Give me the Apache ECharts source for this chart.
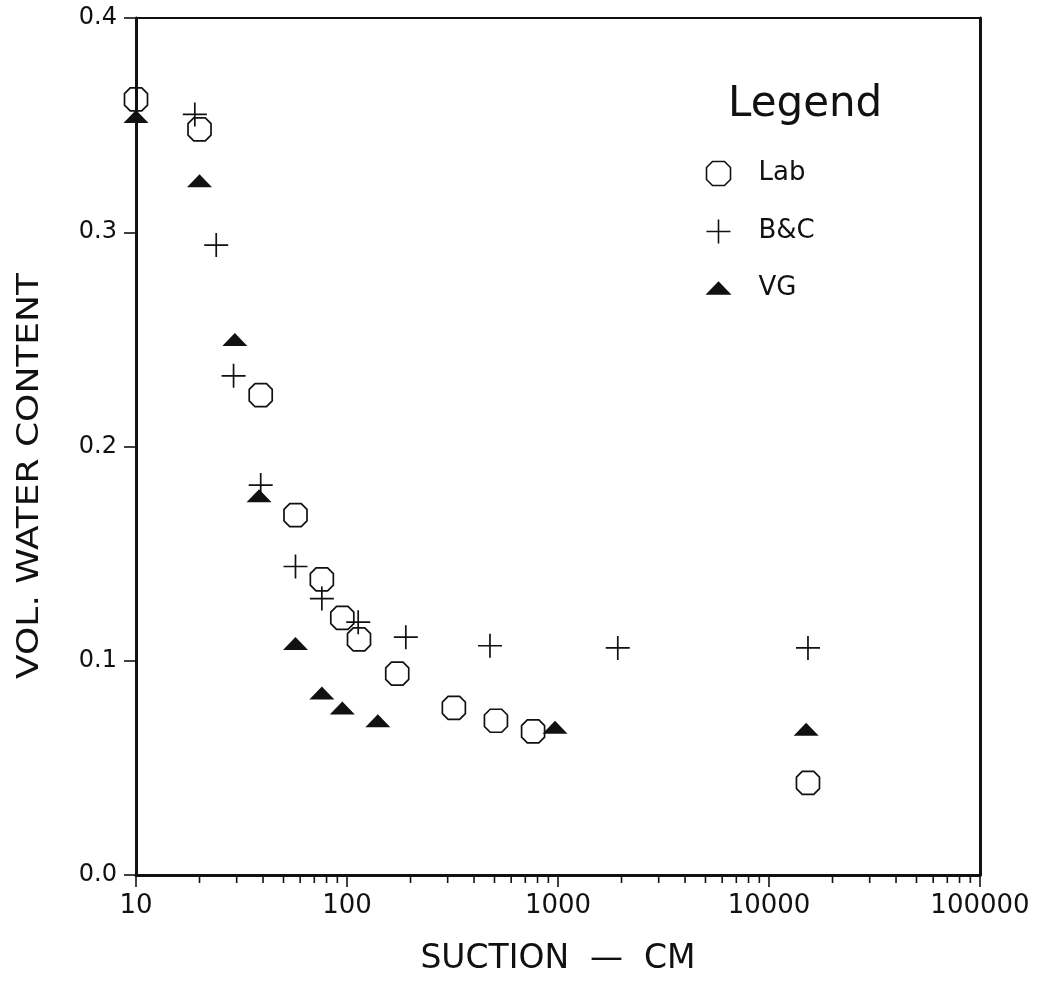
<!DOCTYPE html>
<html>
<head>
<meta charset="utf-8">
<script src="https://cdn.jsdelivr.net/npm/echarts@6/dist/echarts.min.js"></script>
<style>
  html, body { margin: 0; padding: 0; background: #fff; }
  #main { width: 1039px; height: 981px; }
</style>
</head>
<body>
<div id="main"></div>
<script>
// suction (cm) / volumetric water content
var labSuction = [10, 20, 39, 57, 76, 95, 114, 173, 321, 508, 762, 15300];
var labTheta   = [0.362, 0.348, 0.224, 0.168, 0.138, 0.120, 0.110, 0.094, 0.078, 0.072, 0.067, 0.043];

var bcSuction = [19, 24, 29, 39, 57, 76, 113, 190, 476, 1920, 15300];
var bcTheta   = [0.355, 0.294, 0.233, 0.182, 0.144, 0.129, 0.118, 0.111, 0.107, 0.106, 0.106];

var vgSuction = [10, 20, 29.4, 38.3, 57, 76, 95, 140, 968, 15000];
var vgTheta   = [0.354, 0.324, 0.250, 0.177, 0.108, 0.085, 0.078, 0.072, 0.069, 0.068];

var yTicks = [0, 0.1, 0.2, 0.3, 0.4];
var xDecades = [10, 100, 1000, 10000];
var minorSteps = [2, 3, 4, 5, 6, 7, 8, 9];

var INK = '#111';
var FONT = '"DejaVu Sans", sans-serif';

var octagon = 'path://M6,0 H18 L24,6 V18 L18,24 H6 L0,18 V6 Z';
var cross = 'path://M0,12 H24 M12,0 V24';
var flatTri = 'path://M0,13 L12.5,0 L25,13 Z';

function pairs(xs, ys) {
    var out = [];
    for (var i = 0; i < xs.length; i++) out.push([xs[i], ys[i]]);
    return out;
}

var minorTicks = [];
xDecades.forEach(function (d) {
    minorSteps.forEach(function (s) { minorTicks.push([d * s, 0]); });
});

var chart = echarts.init(document.getElementById('main'));

var option = {
    backgroundColor: '#fff',
    animation: false,
    grid: {
        left: 136, right: 59, top: 18, bottom: 106,
        show: true, borderColor: INK, borderWidth: 2
    },
    title: {
        text: 'Legend',
        left: 728, top: 84,
        padding: 0,
        textStyle: { fontFamily: FONT, fontSize: 42, fontWeight: 'normal', color: INK }
    },
    legend: {
        orient: 'vertical',
        left: 704, top: 159,
        padding: 0,
        itemWidth: 26, itemHeight: 24, itemGap: 29,
        selectedMode: false,
        textStyle: { fontFamily: FONT, fontSize: 26, color: INK, padding: [0, 0, 0, 22] },
        data: [
            { name: 'Lab', icon: octagon, itemStyle: { color: 'none', borderColor: INK, borderWidth: 1.6, opacity: 1 } },
            { name: 'B&C', icon: cross, itemStyle: { color: 'none', borderColor: INK, borderWidth: 1.6, opacity: 1 } },
            { name: 'VG', icon: flatTri, itemStyle: { color: INK, borderWidth: 0, opacity: 1 } }
        ]
    },
    xAxis: {
        type: 'log',
        logBase: 10,
        min: 10, max: 100000,
        name: 'SUCTION  —  CM',
        nameLocation: 'middle',
        nameGap: 68,
        nameTextStyle: { fontFamily: FONT, fontSize: 33, color: INK },
        axisLine: { lineStyle: { color: INK, width: 3 } },
        axisTick: { inside: false, length: 12, lineStyle: { color: INK, width: 1.6 } },
        axisLabel: {
            fontFamily: FONT, fontSize: 26, color: INK, margin: 18,
            formatter: function (v) { return String(Math.round(v)); }
        },
        splitLine: { show: false },
        minorTick: { show: false }
    },
    yAxis: [{
        type: 'value',
        min: yTicks[0], max: yTicks[yTicks.length - 1], interval: 0.1,
        axisLine: { show: true, lineStyle: { color: INK, width: 3 } },
        axisTick: { show: true, inside: false, length: 12, lineStyle: { color: INK, width: 1.6 } },
        axisLabel: {
            fontFamily: FONT, fontSize: 24, color: INK, margin: 19,
            formatter: function (v) { return v.toFixed(1); }
        },
        splitLine: { show: false }
    }, {
        type: 'value',
        position: 'right',
        min: 0, max: 0.4, interval: 0.1,
        axisLine: { show: true, lineStyle: { color: INK, width: 3 } },
        axisTick: { show: false },
        axisLabel: { show: false },
        splitLine: { show: false }
    }],
    graphic: [{
        type: 'text',
        x: 30, y: 476,
        rotation: Math.PI / 2,
        scaleX: 1.2,
        style: {
            text: 'VOL. WATER CONTENT',
            font: '30px ' + FONT,
            fill: INK,
            align: 'center',
            verticalAlign: 'middle'
        }
    }],
    series: [{
        name: 'minor ticks',
        type: 'custom',
        silent: true,
        data: minorTicks,
        renderItem: function (params, api) {
            var p = api.coord([api.value(0), 0]);
            return {
                type: 'line',
                shape: { x1: p[0], y1: p[1], x2: p[0], y2: p[1] + 8 },
                style: { stroke: INK, lineWidth: 1.6 }
            };
        }
    }, {
        name: 'Lab',
        type: 'scatter',
        symbol: octagon,
        symbolSize: 23,
        itemStyle: { color: 'none', borderColor: INK, borderWidth: 1.7, opacity: 1 },
        data: pairs(labSuction, labTheta)
    }, {
        name: 'B&C',
        type: 'scatter',
        symbol: cross,
        symbolSize: 24,
        itemStyle: { color: 'none', borderColor: INK, borderWidth: 1.7, opacity: 1 },
        data: pairs(bcSuction, bcTheta)
    }, {
        name: 'VG',
        type: 'scatter',
        symbol: 'triangle',
        symbolSize: [25, 13],
        itemStyle: { color: INK, opacity: 1 },
        data: pairs(vgSuction, vgTheta)
    }]
};

chart.setOption(option);
</script>
</body>
</html>
